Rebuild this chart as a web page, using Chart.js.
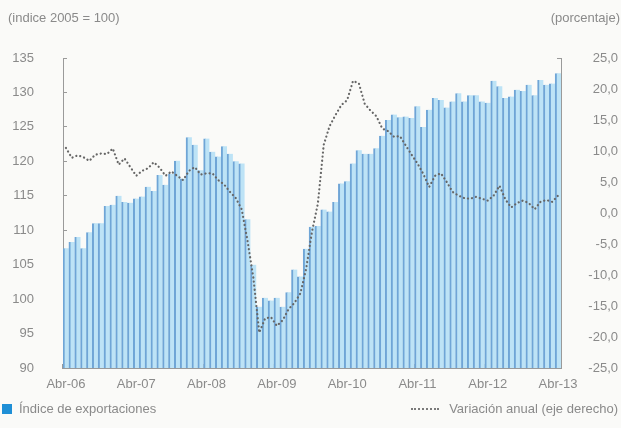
<!DOCTYPE html>
<html>
<head>
<meta charset="utf-8">
<script src="https://cdn.jsdelivr.net/npm/chart.js@4.4.1/dist/chart.umd.min.js"></script>
<style>
  html, body { margin: 0; padding: 0; background: #fafaf8; }
  #wrap { position: relative; width: 621px; height: 428px; overflow: hidden;
          font-family: 'Liberation Sans', Arial, sans-serif; font-size: 13px; color: #8a8a8a; }
  canvas { position: absolute; left: 0; top: 0; }
  .hl { position: absolute; left: 8px; top: 10px; }
  .hr { position: absolute; right: 1px; top: 10px; }
  .lg1 { position: absolute; left: 2px; top: 401px; display: flex; align-items: center; }
  .lg1 .sw { width: 10px; height: 10px; background: #1f8fd6; margin-right: 7px; }
  .lg2 { position: absolute; right: 3px; top: 401px; display: flex; align-items: center; }
  .lg2 .dl { width: 28px; height: 0; border-top: 2px dotted #7a7a7a; margin-right: 10px; }
</style>
</head>
<body>
<div id="wrap">
  <canvas id="c" width="621" height="428"></canvas>
  <div class="hl">(indice 2005 = 100)</div>
  <div class="hr">(porcentaje)</div>
  <div class="lg1"><span class="sw"></span><span>Índice de exportaciones</span></div>
  <div class="lg2"><span class="dl"></span><span>Variación anual (eje derecho)</span></div>
</div>
<script>
// Monthly observations, Apr-2006 .. Apr-2013
const MONTHS = ['Abr','May','Jun','Jul','Ago','Sep','Oct','Nov','Dic','Ene','Feb','Mar'];
const START_YEAR = 2006;
const N_MONTHS = 85;

const tickLabels = ['Abr-06','Abr-07','Abr-08','Abr-09','Abr-10','Abr-11','Abr-12','Abr-13'];

const exportIndex = [
  107.4, 108.3, 109.0, 107.4, 109.7, 111.0, 111.0, 113.5, 113.7, 115.0, 114.1, 114.0,
  114.6, 114.9, 116.3, 115.7, 118.0, 116.6, 118.2, 120.1, 117.5, 123.5, 122.4, 118.7,
  123.3, 121.4, 120.7, 122.2, 121.1, 120.0, 119.7, 111.6, 105.0, 98.9, 100.2, 99.8,
  100.2, 98.9, 101.0, 104.3, 103.3, 107.3, 110.5, 110.6, 113.0, 112.7, 114.1, 116.8,
  117.1, 119.7, 121.6, 121.1, 121.1, 121.9, 123.7, 126.0, 126.8, 126.4, 126.5, 126.3,
  128.0, 125.0, 127.5, 129.2, 128.9, 127.8, 128.7, 129.9, 128.7, 129.6, 129.6, 128.7,
  128.5, 131.7, 130.9, 129.2, 129.4, 130.4, 130.2, 131.1, 129.6, 131.8, 131.1, 131.3,
  132.8
];

const annualChange = [
  10.5, 8.9, 9.3, 9.0, 8.4, 9.4, 9.6, 9.5, 10.4, 7.8, 8.8, 7.4,
  6.0, 6.8, 7.2, 8.2, 7.3, 6.0, 6.7, 6.0, 5.3, 6.8, 7.4, 6.2,
  6.4, 6.4, 5.3, 4.6, 3.4, 2.4, 0.6, -4.5, -10.5, -19.3, -17.0, -16.8,
  -18.2, -17.3, -15.5, -14.5, -13.0, -9.0, -3.0, 1.5, 11.0, 14.0, 15.8, 17.4,
  18.2, 21.3, 20.9, 17.6, 16.5, 15.6, 13.6, 13.2, 12.3, 12.4, 10.9, 9.4,
  8.0, 6.3, 4.2, 6.0, 6.4, 5.0, 3.4, 2.8, 2.4, 2.3, 2.6, 2.3,
  2.0, 2.8, 4.4, 2.2, 0.9, 1.6, 2.0, 1.6, 0.6, 1.8, 2.1, 1.8,
  2.8
];

const categories = [];
for (let i = 0; i < N_MONTHS; i++) {
  const y = START_YEAR + Math.floor((i + 3) / 12);
  categories.push(MONTHS[i % 12] + '-' + String(y).slice(2));
}

const GRAY = '#9a9a9a';
Chart.defaults.font.family = "'Liberation Sans', Arial, sans-serif";
Chart.defaults.font.size = 13;
Chart.defaults.color = '#8a8a8a';

new Chart(document.getElementById('c'), {
  data: {
    labels: categories,
    datasets: [
      {
        type: 'line',
        label: 'Variación anual (eje derecho)',
        data: annualChange,
        yAxisID: 'y2',
        borderColor: '#666666',
        borderWidth: 2.2,
        borderDash: [0.1, 4],
        borderCapStyle: 'round',
        pointRadius: 0,
        tension: 0,
        fill: false,
        order: 0
      },
      {
        type: 'bar',
        label: 'Índice de exportaciones',
        data: exportIndex,
        yAxisID: 'y',
        backgroundColor: '#bde3f6',
        borderColor: '#6fa5d6',
        borderWidth: { left: 2, right: 0, top: 0, bottom: 0 },
        borderSkipped: false,
        barPercentage: 1,
        categoryPercentage: 1,
        order: 1
      }
    ]
  },
  options: {
    responsive: false,
    animation: false,
    devicePixelRatio: 1,
    layout: { padding: { top: 58, left: 0, right: 3, bottom: 0 } },
    plugins: { legend: { display: false }, tooltip: { enabled: false } },
    scales: {
      x: {
        type: 'category',
        offset: true,
        afterFit: s => { s.height = 60; },
        grid: {
          offset: true,
          drawOnChartArea: false,
          drawTicks: true,
          tickLength: -4,
          color: c => (c.index % 12 === 0 ? GRAY : 'rgba(0,0,0,0)')
        },
        border: { display: true, color: GRAY, width: 1 },
        ticks: {
          autoSkip: false,
          maxRotation: 0,
          padding: 13,
          callback: (v, i) => (i % 12 === 0 ? tickLabels[i / 12] : '')
        }
      },
      y: {
        position: 'left',
        min: 90, max: 135,
        afterFit: s => { s.width = 63; },
        grid: { drawOnChartArea: false, drawTicks: true, tickLength: -4, color: GRAY },
        border: { display: true, color: GRAY, width: 1 },
        ticks: { stepSize: 5, padding: 33, callback: v => String(v) }
      },
      y2: {
        position: 'right',
        min: -25, max: 25,
        afterFit: s => { s.width = 57; },
        grid: { drawOnChartArea: false, drawTicks: true, tickLength: -4, color: GRAY },
        border: { display: true, color: GRAY, width: 1 },
        ticks: {
          stepSize: 5,
          crossAlign: 'far',
          callback: v => v.toFixed(1).replace('.', ',')
        }
      }
    }
  }
});
</script>
</body>
</html>
